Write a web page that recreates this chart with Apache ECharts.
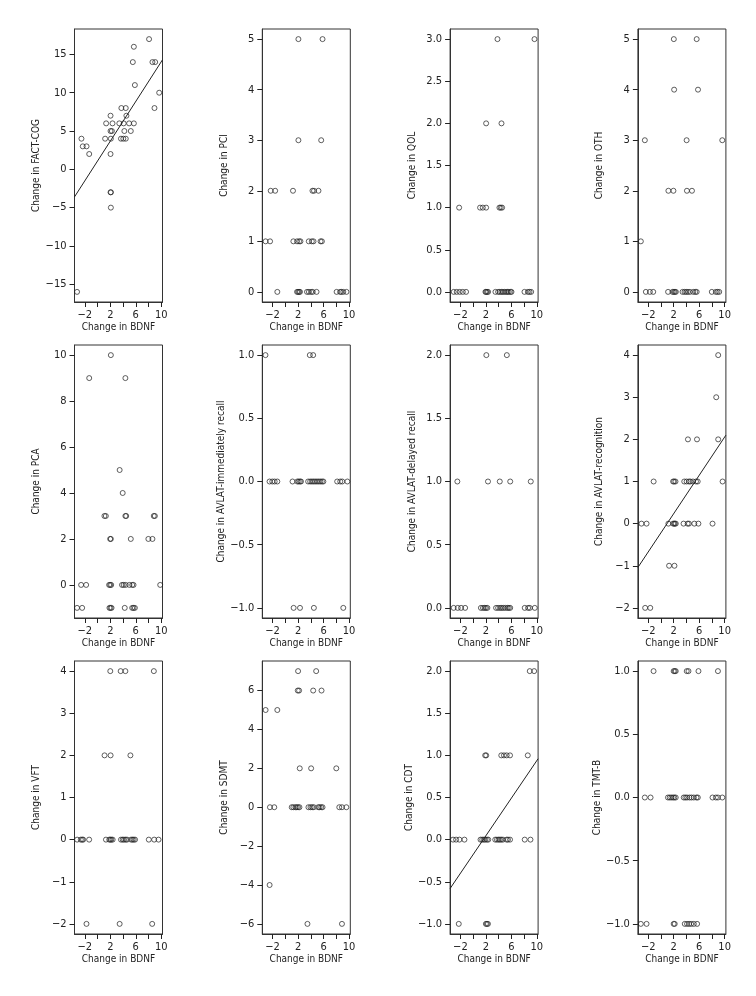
<!DOCTYPE html>
<html>
<head>
<meta charset="utf-8">
<script src="https://cdn.jsdelivr.net/npm/echarts@6.0.0/dist/echarts.min.js"></script>
<style>
  html, body { margin: 0; padding: 0; background: #fff; }
  #canvas { width: 756px; height: 996px; }
</style>
</head>
<body>
<div id="canvas"></div>
<script>
// x axis (change in BDNF) shared by every panel
var bdnfRange = [-3.62, 10.2];
var bdnfTicks = [-2, 0, 2, 4, 6, 8, 10];
var bdnfLabels = [-2, 2, 6, 10];

// points [change in BDNF, change in score]
var factCog = [[8.09,17],[5.7,16],[5.54,14],[8.62,14],[9.05,14],[5.86,11],[9.68,10],[8.94,8],[3.74,8],[4.43,8],
  [2.04,7],[4.53,7],[1.35,6],[2.35,6],[3.42,6],[4.1,6],[4.96,6],[5.7,6],[2.04,5],[2.25,5],[4.21,5],[5.22,5],
  [-2.53,4],[1.19,4],[2.09,4],[3.68,4],[4.05,4],[4.43,4],[-2.32,3],[-1.73,3],[-1.31,2],[2.04,2],
  [2.04,-3],[2.1,-3],[2.09,-5],[-3.22,-16]];
var pci = [[2.05,5],[5.84,5],[2.05,3],[5.63,3],[-2.3,2],[-1.6,2],[1.2,2],[4.26,2],[4.5,2],[5.2,2],
  [-3.1,1],[-2.4,1],[1.26,1],[1.84,1],[2.16,1],[2.37,1],[3.68,1],[4.16,1],[4.42,1],[5.53,1],[5.74,1],
  [-1.26,0],[1.84,0],[2.0,0],[2.16,0],[2.3,0],[3.4,0],[3.7,0],[4.05,0],[4.3,0],[4.9,0],[8.05,0],[8.6,0],[8.8,0],[9.1,0],[9.6,0]];
var qol = [[3.82,3],[9.63,3],[2.04,2],[4.45,2],[-2.2,1],[1.09,1],[1.51,1],[2.04,1],[4.13,1],[4.34,1],[4.55,1],
  [-3.05,0],[-2.58,0],[-2.1,0],[-1.63,0],[-1.11,0],[1.93,0],[2.04,0],[2.19,0],[2.35,0],[3.5,0],[3.92,0],[4.18,0],
  [4.45,0],[4.66,0],[4.92,0],[5.18,0],[5.39,0],[5.6,0],[5.86,0],[6.02,0],[8.06,0],[8.59,0],[8.85,0],[9.11,0]];
var oth = [[2.02,5],[5.61,5],[2.07,4],[5.82,4],[-2.53,3],[4.03,3],[9.63,3],[1.17,2],[1.96,2],[4.08,2],[4.87,2],[-3.16,1],
  [-2.37,0],[-1.74,0],[-1.21,0],[1.12,0],[1.81,0],[2.02,0],[2.18,0],[2.34,0],[3.39,0],[3.71,0],[3.97,0],[4.24,0],
  [4.55,0],[5.08,0],[5.4,0],[5.61,0],[7.99,0],[8.62,0],[8.89,0],[9.15,0]];
var pca = [[2.09,10],[-1.31,9],[4.37,9],[3.47,5],[3.95,4],[1.08,3],[1.3,3],[4.37,3],[4.5,3],[8.83,3],[9.0,3],
  [1.98,2],[2.09,2],[5.22,2],[7.98,2],[8.62,2],[-2.58,0],[-1.79,0],[1.82,0],[1.98,0],[2.14,0],[3.84,0],[4.1,0],
  [4.42,0],[5.0,0],[5.44,0],[5.65,0],[9.84,0],[-3.22,-1],[-2.42,-1],[1.87,-1],[2.04,-1],[2.2,-1],[4.27,-1],
  [5.44,-1],[5.65,-1],[5.86,-1]];
var avlatImmediate = [[-3.12,1],[3.84,1],[4.37,1],[-2.48,0],[-2.05,0],[-1.68,0],[-1.26,0],[1.13,0],[1.88,0],[2.09,0],
  [2.3,0],[2.46,0],[3.58,0],[3.9,0],[4.17,0],[4.43,0],[4.69,0],[4.96,0],[5.22,0],[5.49,0],[5.75,0],[5.97,0],
  [8.14,0],[8.62,0],[8.94,0],[9.74,0],[1.3,-1],[2.3,-1],[4.48,-1],[9.1,-1]];
var avlatDelayed = [[2.07,2],[5.29,2],[-2.48,1],[2.33,1],[4.18,1],[5.82,1],[9.05,1],[-3.06,0],[-2.42,0],[-1.89,0],
  [-1.26,0],[1.22,0],[1.54,0],[1.81,0],[2.02,0],[2.23,0],[3.6,0],[3.92,0],[4.24,0],[4.5,0],[4.77,0],[5.08,0],
  [5.4,0],[5.61,0],[5.82,0],[8.1,0],[8.63,0],[8.9,0],[9.68,0]];
var avlatRecognition = [[8.99,4],[8.68,3],[4.24,2],[5.66,2],[8.99,2],[-1.15,1],[1.91,1],[2.07,1],[2.28,1],[3.66,1],
  [4.03,1],[4.4,1],[4.61,1],[5.03,1],[5.5,1],[5.77,1],[9.68,1],[-3.06,0],[-2.26,0],[1.17,0],[1.91,0],[2.07,0],
  [2.18,0],[2.33,0],[3.55,0],[4.19,0],[4.4,0],[5.24,0],[5.88,0],[8.1,0],[1.28,-1],[2.12,-1],[-2.48,-2],[-1.68,-2]];
var vft = [[2.0,4],[3.63,4],[4.37,4],[8.84,4],[1.1,2],[2.05,2],[5.16,2],[-3.21,0],[-2.63,0],[-2.42,0],[-2.26,0],
  [-1.32,0],[1.32,0],[1.84,0],[2.0,0],[2.16,0],[2.37,0],[3.68,0],[3.95,0],[4.16,0],[4.42,0],[4.63,0],[5.26,0],
  [5.47,0],[5.68,0],[5.89,0],[8.05,0],[8.89,0],[9.58,0],[-1.74,-2],[3.47,-2],[8.58,-2]];
var sdmt = [[2.0,7],[4.84,7],[1.95,6],[2.16,6],[4.37,6],[5.68,6],[-3.1,5],[-1.26,5],[2.26,2],[4.05,2],[8.0,2],
  [-2.42,0],[-1.74,0],[1.0,0],[1.26,0],[1.58,0],[1.79,0],[2.0,0],[2.21,0],[3.63,0],[3.95,0],[4.21,0],[4.47,0],
  [5.16,0],[5.37,0],[5.63,0],[5.84,0],[8.47,0],[8.89,0],[9.58,0],[-2.47,-4],[3.47,-6],[8.89,-6]];
var cdt = [[8.89,2],[9.58,2],[1.89,1],[2.05,1],[4.42,1],[4.84,1],[5.26,1],[5.79,1],[8.58,1],[-3.16,0],[-2.68,0],
  [-2.16,0],[-1.37,0],[1.16,0],[1.42,0],[1.68,0],[1.89,0],[2.16,0],[2.37,0],[3.47,0],[3.74,0],[4.0,0],[4.21,0],
  [4.42,0],[4.68,0],[5.26,0],[5.47,0],[5.79,0],[8.1,0],[9.0,0],[-2.26,-1],[2.0,-1],[2.16,-1],[2.32,-1]];
var tmtb = [[-1.16,1],[2.0,1],[2.16,1],[2.32,1],[4.05,1],[4.32,1],[5.89,1],[8.95,1],[-2.53,0],[-1.63,0],[1.1,0],
  [1.37,0],[1.63,0],[1.89,0],[2.1,0],[2.32,0],[3.58,0],[3.84,0],[4.1,0],[4.47,0],[4.79,0],[5.16,0],[5.58,0],
  [5.79,0],[8.1,0],[8.63,0],[8.95,0],[9.63,0],[-3.16,-1],[-2.26,-1],[2.0,-1],[2.16,-1],[3.74,-1],[4.1,-1],
  [4.42,-1],[4.74,-1],[5.16,-1],[5.68,-1]];

// fitted regression lines, end points
var factCogFit = [[-3.62,-3.6],[10.2,14.3]];
var avlatRecognitionFit = [[-3.62,-1.04],[10.2,2.1]];
var cdtFit = [[-3.62,-0.58],[10.2,0.96]];

// y tick values per panel
var factCogTicks = [-15,-10,-5,0,5,10,15];
var pciTicks = [0,1,2,3,4,5];
var qolTicks = [0,0.5,1,1.5,2,2.5,3];
var othTicks = [0,1,2,3,4,5];
var pcaTicks = [0,2,4,6,8,10];
var avlatImmediateTicks = [-1,-0.5,0,0.5,1];
var avlatDelayedTicks = [0,0.5,1,1.5,2];
var avlatRecognitionTicks = [-2,-1,0,1,2,3,4];
var vftTicks = [-2,-1,0,1,2,3,4];
var sdmtTicks = [-6,-4,-2,0,2,4,6];
var cdtTicks = [-1,-0.5,0,0.5,1,1.5,2];
var tmtbTicks = [-1,-0.5,0,0.5,1];

var panels = [
  {name: 'Change in FACT-COG', data: factCog, fit: factCogFit, ticks: factCogTicks, min: -17.32, max: 18.32, dec: 0},
  {name: 'Change in PCI', data: pci, ticks: pciTicks, min: -0.2, max: 5.2, dec: 0},
  {name: 'Change in QOL', data: qol, ticks: qolTicks, min: -0.12, max: 3.12, dec: 1},
  {name: 'Change in OTH', data: oth, ticks: othTicks, min: -0.2, max: 5.2, dec: 0},
  {name: 'Change in PCA', data: pca, ticks: pcaTicks, min: -1.44, max: 10.44, dec: 0},
  {name: 'Change in AVLAT-immediately recall', data: avlatImmediate, ticks: avlatImmediateTicks, min: -1.08, max: 1.08, dec: 1},
  {name: 'Change in AVLAT-delayed recall', data: avlatDelayed, ticks: avlatDelayedTicks, min: -0.08, max: 2.08, dec: 1},
  {name: 'Change in AVLAT-recognition', data: avlatRecognition, fit: avlatRecognitionFit, ticks: avlatRecognitionTicks, min: -2.24, max: 4.24, dec: 0},
  {name: 'Change in VFT', data: vft, ticks: vftTicks, min: -2.24, max: 4.24, dec: 0},
  {name: 'Change in SDMT', data: sdmt, ticks: sdmtTicks, min: -6.52, max: 7.52, dec: 0},
  {name: 'Change in CDT', data: cdt, fit: cdtFit, ticks: cdtTicks, min: -1.12, max: 2.12, dec: 1},
  {name: 'Change in TMT-B', data: tmtb, ticks: tmtbTicks, min: -1.08, max: 1.08, dec: 1}
];

var font = "'Liberation Sans Narrow', 'Arial Narrow', 'DejaVu Sans Condensed', 'Noto Sans', sans-serif";
var ink = '#222';
var rowTops = [29, 345, 661];

function fmt(v, dec) {
  return v.toFixed(dec).replace('-', '\u2212');
}

var myChart = echarts.init(document.getElementById('canvas'));

var grids = [], xAxes = [], yAxes = [], series = [];
panels.forEach(function (p, i) {
  var col = i % 4, row = Math.floor(i / 4);
  grids.push({
    left: 74.5 + col * 187.8,
    top: rowTops[row],
    width: 88,
    height: 273,
    show: true,
    borderColor: '#333',
    borderWidth: 1
  });
  xAxes.push({
    gridIndex: i,
    type: 'value',
    min: bdnfRange[0],
    max: bdnfRange[1],
    name: 'Change in BDNF',
    nameLocation: 'middle',
    nameGap: 20,
    nameTextStyle: {fontFamily: font, fontSize: 10, color: ink},
    axisLine: {show: true, onZero: false, lineStyle: {color: '#333'}},
    splitLine: {show: false},
    axisTick: {show: true, length: 5, customValues: bdnfTicks, lineStyle: {color: '#222', width: 1}},
    axisLabel: {
      customValues: bdnfLabels, margin: 8, fontFamily: font, fontSize: 11, color: ink,
      formatter: function (v) { return fmt(v, 0); }
    }
  });
  yAxes.push({
    gridIndex: i,
    type: 'value',
    min: p.min,
    max: p.max,
    name: p.name,
    nameLocation: 'middle',
    nameGap: 33,
    nameRotate: 90,
    nameTextStyle: {fontFamily: font, fontSize: 10, color: ink},
    axisLine: {show: true, onZero: false, lineStyle: {color: '#333'}},
    splitLine: {show: false},
    axisTick: {show: true, length: 5, customValues: p.ticks, lineStyle: {color: '#222', width: 1}},
    axisLabel: {
      customValues: p.ticks, margin: 8, fontFamily: font, fontSize: 11, color: ink,
      formatter: function (v) { return fmt(v, p.dec); }
    }
  });
  series.push({
    type: 'scatter',
    xAxisIndex: i,
    yAxisIndex: i,
    data: p.data,
    symbol: 'circle',
    symbolSize: 5,
    itemStyle: {color: 'rgba(0,0,0,0)', borderColor: ink, borderWidth: 0.9}
  });
  if (p.fit) {
    series.push({
      type: 'line',
      xAxisIndex: i,
      yAxisIndex: i,
      data: p.fit,
      symbol: 'none',
      lineStyle: {color: ink, width: 1}
    });
  }
});

var option = {
  animation: false,
  backgroundColor: '#fff',
  grid: grids,
  xAxis: xAxes,
  yAxis: yAxes,
  series: series
};

myChart.setOption(option);
</script>
</body>
</html>
